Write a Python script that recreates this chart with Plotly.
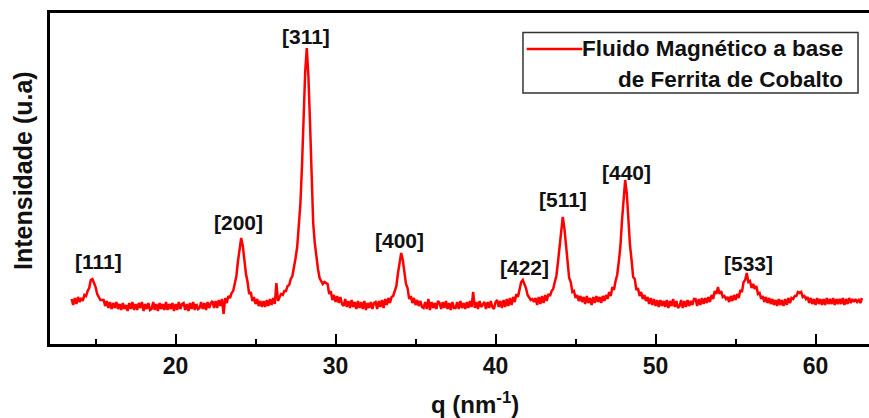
import plotly.graph_objects as go

# ---------------- data ----------------
# intensity (arbitrary units) sampled every 0.1 nm^-1 starting at q = 13.5
Q_START = 13.5
Q_STEP = 0.1
intensity = [
    45, 39, 46, 40, 47, 42, 46, 43, 49, 48,      # 13.5 - 14.4
    53, 56, 64, 65, 61, 57, 50, 47, 44, 44,      # 14.5 - 15.4
    44, 38, 43, 36, 42, 35, 41, 36, 42, 35,      # 15.5
    40, 34, 41, 35, 39, 33, 41, 35, 42, 34,      # 16.5
    40, 34, 41, 36, 42, 33, 40, 35, 41, 34,      # 17.5
    35, 42, 34, 40, 33, 41, 35, 40, 34, 42,      # 18.5
    34, 40, 35, 41, 33, 40, 34, 42, 35, 40,      # 19.5
    41, 34, 40, 33, 41, 35, 42, 34, 40, 35,      # 20.5
    36, 42, 35, 41, 34, 42, 36, 41, 43, 36,      # 21.5
    43, 36, 44, 38, 45, 30, 46, 41, 48, 46,      # 22.5
    51, 53, 61, 68, 83, 96, 106, 98, 81, 70,     # 23.5
    62, 50, 52, 43, 47, 40, 45, 38, 43, 37,      # 24.5
    43, 37, 44, 38, 45, 39, 46, 40, 61, 43,      # 25.5
    47, 50, 49, 53, 53, 58, 59, 65, 68, 76,      # 26.5
    86, 97, 117, 140, 178, 224, 272, 296, 268, 222,  # 27.5
    157, 121, 101, 84, 75, 66, 62, 60, 62, 61,   # 28.5
    60, 50, 53, 44, 49, 42, 48, 41, 47, 40,      # 29.5
    38, 45, 37, 43, 36, 44, 37, 42, 35, 43,      # 30.5
    36, 42, 35, 43, 34, 41, 36, 42, 35, 41,      # 31.5
    42, 35, 43, 37, 44, 36, 45, 39, 46, 41,      # 32.5
    47, 48, 54, 58, 71, 82, 91, 84, 69, 60,      # 33.5
    56, 45, 48, 41, 46, 39, 44, 38, 43, 37,      # 34.5
    36, 42, 35, 45, 34, 42, 36, 41, 35, 43,      # 35.5
    41, 35, 42, 36, 43, 35, 41, 34, 42, 36,      # 36.5
    36, 42, 35, 43, 36, 41, 35, 42, 36, 43,      # 37.5
    37, 52, 36, 42, 35, 43, 37, 40, 42, 35,      # 38.5
    42, 36, 43, 37, 35, 42, 44, 37, 43, 36,      # 39.5
    44, 37, 45, 38, 46, 39, 47, 42, 50, 47,      # 40.5
    54, 62, 64, 60, 56, 49, 47, 44, 45, 42,      # 41.5
    46, 39, 47, 40, 48, 41, 49, 43, 50, 48,      # 42.5
    53, 55, 62, 68, 82, 97, 118, 127, 116, 99,   # 43.5
    82, 66, 62, 52, 53, 46, 49, 43, 48, 42,      # 44.5
    47, 40, 48, 41, 46, 39, 47, 41, 48, 42,      # 45.5
    47, 41, 48, 43, 49, 45, 52, 48, 57, 54,      # 46.5
    63, 69, 82, 97, 123, 149, 164, 151, 121, 99,  # 47.5
    84, 67, 65, 54, 56, 48, 52, 45, 49, 43,      # 48.5
    47, 40, 46, 39, 45, 38, 44, 37, 44, 38,      # 49.5
    43, 37, 44, 36, 43, 38, 45, 37, 43, 36,      # 50.5
    38, 44, 36, 43, 37, 44, 38, 43, 39, 45,      # 51.5
    45, 38, 45, 39, 46, 40, 46, 41, 47, 42,      # 52.5
    49, 45, 53, 50, 57, 50, 53, 47, 48, 45,      # 53.5
    47, 42, 48, 43, 49, 44, 50, 46, 54, 52,      # 54.5
    62, 64, 71, 62, 63, 56, 60, 55, 58, 50,      # 55.5
    51, 45, 48, 42, 47, 41, 46, 40, 45, 39,      # 56.5
    44, 38, 45, 39, 44, 38, 45, 39, 46, 41,      # 57.5
    46, 45, 48, 48, 52, 51, 52, 47, 48, 45,      # 58.5
    47, 41, 46, 40, 45, 39, 46, 40, 45, 39,      # 59.5
    45, 39, 46, 40, 45, 40, 46, 39, 45, 40,      # 60.5
    45, 40, 46, 39, 45, 40, 46, 41, 45, 42,      # 61.5
    45, 42, 44, 41, 46,                          # 62.5 - 62.9
]
q = [round(Q_START + Q_STEP * i, 2) for i in range(len(intensity))]

peak_labels = ["[111]", "[200]", "[311]", "[400]", "[422]", "[511]", "[440]", "[533]"]
peak_label_q = [15.15, 23.94, 28.15, 33.99, 41.78, 44.21, 48.21, 55.79]
peak_label_i = [83, 122, 308, 104, 77, 145, 172, 81]

x_ticks = [20, 30, 40, 50, 60]
x_minor_ticks = [15, 25, 35, 45, 55]
series_name = ["Fluido Magnético a base", "de Ferrita de Cobalto"]

# ---------------- figure ----------------
FONT = "Liberation Sans, Arial, sans-serif"
RED = "#ff0000"

fig = go.Figure()
fig.add_trace(go.Scatter(
    x=q, y=intensity, mode="lines",
    line=dict(color=RED, width=2.5),
    name=" ".join(series_name), showlegend=False,
))

for lab, lq, li in zip(peak_labels, peak_label_q, peak_label_i):
    fig.add_annotation(x=lq, y=li, xref="x", yref="y", text=lab, showarrow=False,
                       xanchor="center", yanchor="middle",
                       font=dict(family=FONT, size=21, color="#111111", weight="bold"))

# manual legend (text right aligned as in the reference)
fig.add_shape(type="rect", xref="paper", yref="paper",
              x0=0.5775, x1=0.9866, y0=0.7583, y1=0.9411,
              line=dict(color="#333333", width=1.5), fillcolor="white", layer="above")
fig.add_shape(type="line", xref="paper", yref="paper",
              x0=0.582, x1=0.650, y0=0.891, y1=0.891,
              line=dict(color=RED, width=2.5), layer="above")
fig.add_annotation(x=0.9707, y=0.894, xref="paper", yref="paper", text=series_name[0],
                   showarrow=False, xanchor="right", yanchor="middle",
                   font=dict(family=FONT, size=22.5, color="#111111", weight="bold"))
fig.add_annotation(x=0.9707, y=0.7976, xref="paper", yref="paper", text=series_name[1],
                   showarrow=False, xanchor="right", yanchor="middle",
                   font=dict(family=FONT, size=22.5, color="#111111", weight="bold"))

# axis titles
fig.add_annotation(x=0.519, y=-0.178, xref="paper", yref="paper",
                   text="q (nm<sup>-1</sup>)", showarrow=False,
                   xanchor="center", yanchor="middle",
                   font=dict(family=FONT, size=24, color="#111111", weight="bold"))
fig.add_annotation(x=-0.033, y=0.5257, xref="paper", yref="paper",
                   text="Intensidade (u.a)", showarrow=False, textangle=-90,
                   xanchor="center", yanchor="middle",
                   font=dict(family=FONT, size=25, color="#111111", weight="bold"))

fig.update_layout(
    width=869, height=418,
    margin=dict(l=50, r=0, t=13, b=74),
    paper_bgcolor="white", plot_bgcolor="white",
    showlegend=False,
    xaxis=dict(
        range=[12.15, 63.34], showgrid=False, zeroline=False,
        showline=True, linecolor="black", linewidth=2.5, mirror=True,
        ticks="inside", ticklen=10, tickwidth=2, tickcolor="black",
        tickvals=x_ticks, ticktext=[str(t) for t in x_ticks],
        tickfont=dict(family=FONT, size=23, color="#111111", weight="bold"),
        minor=dict(ticks="inside", ticklen=5, tickwidth=2, tickcolor="black",
                   tickvals=x_minor_ticks, showgrid=False),
    ),
    yaxis=dict(
        range=[0, 331], showgrid=False, zeroline=False,
        showline=True, linecolor="black", linewidth=2.5, mirror=False,
        ticks="", showticklabels=False,
    ),
)

fig.write_html(
    "out.html",
    config={"displayModeBar": False},
    post_script="document.body.style.margin='0';document.body.style.overflow='hidden';",
)
